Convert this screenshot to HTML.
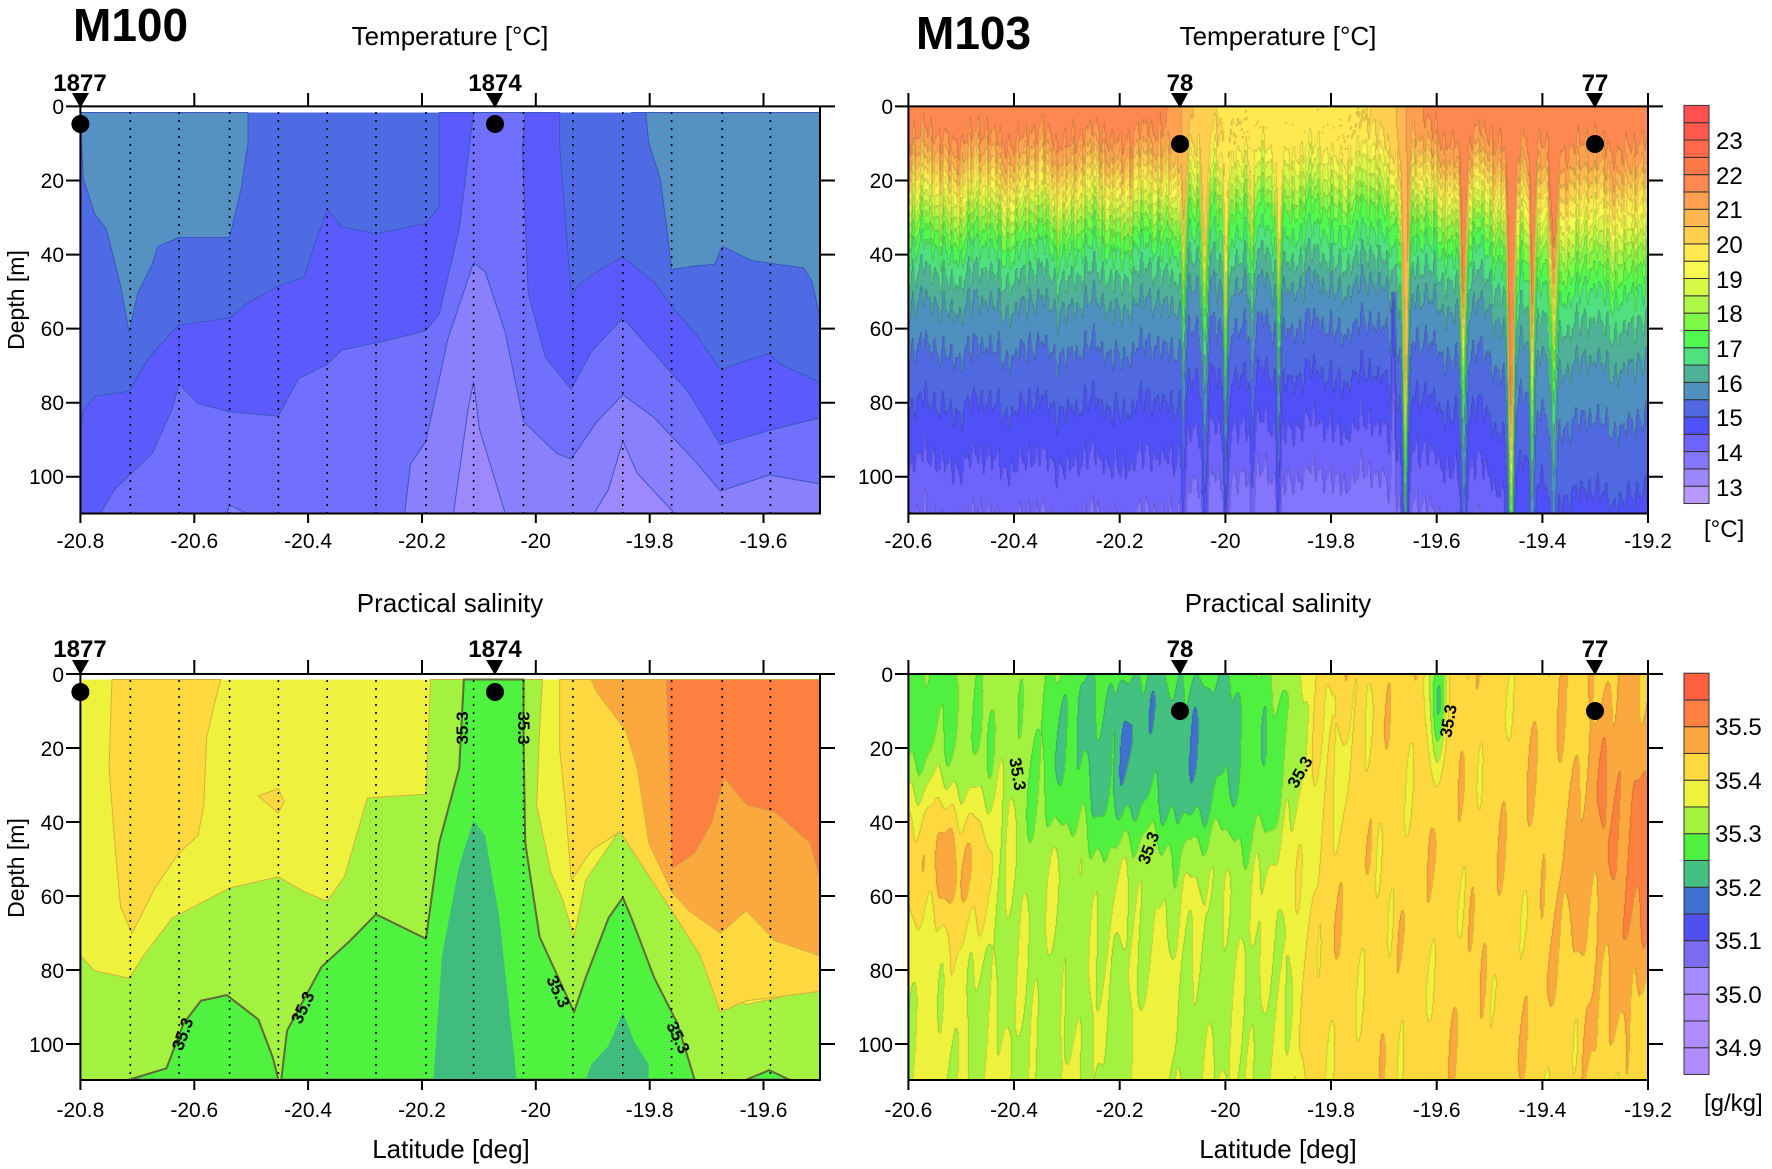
<!DOCTYPE html>
<html><head><meta charset="utf-8">
<style>
html,body{margin:0;padding:0;background:#fff;}
#wrap{position:relative;width:1772px;height:1169px;overflow:hidden;background:#fff;}
canvas{position:absolute;}
svg{position:absolute;left:0;top:0;}
.t{font-family:"Liberation Sans Narrow","Liberation Sans",sans-serif;}
</style></head><body>
<div id="wrap">
<canvas id="ct" width="740" height="407" style="left:908px;top:106px;"></canvas>
<canvas id="cs" width="740" height="406" style="left:908px;top:674px;"></canvas>
<svg width="1772" height="1169" viewBox="0 0 1772 1169" xmlns="http://www.w3.org/2000/svg">
<g transform="scale(0.57405,0.357143)" stroke-linejoin="round">
<rect x="140" y="315" width="1288" height="1122" fill="#4f6be3"/>
<g stroke="#3a58c0" stroke-width="1">
<path vector-effect="non-scaling-stroke" fill="#5591c3" d="M140,315 L432,315 432,400 420,530 400,665 312,665 275,690 265,740 240,820 225,930 210,800 185,640 165,600 145,500Z"/>
<path vector-effect="non-scaling-stroke" fill="#5591c3" d="M1100,315 L1428,315 1428,890 1415,790 1400,750 1345,738 1310,730 1258,690 1245,740 1210,745 1170,755 1160,620 1150,500 1130,400 1125,315Z"/>
<path vector-effect="non-scaling-stroke" fill="#5b5bfd" d="M140,1210 L145,1150 165,1110 225,1095 260,1000 300,930 312,910 400,890 430,850 480,805 530,775 545,700 570,585 595,635 655,655 742,625 765,580 765,315 975,315 975,410 995,830 1010,795 1050,750 1085,720 1140,790 1170,860 1210,930 1255,1035 1300,1010 1340,990 1360,1020 1428,1070 1428,1437 140,1437Z"/>
<path vector-effect="non-scaling-stroke" fill="#7170fd" d="M175,1437 L200,1370 265,1270 300,1145 312,1075 345,1130 400,1153 485,1165 520,1060 570,1020 595,980 655,960 720,935 742,925 765,880 800,640 825,315 915,315 910,420 920,820 950,1000 995,1090 1030,985 1085,890 1140,990 1200,1100 1255,1245 1340,1205 1428,1170 1428,1437Z"/>
<path vector-effect="non-scaling-stroke" fill="#8a7ffd" d="M705,1437 L715,1300 742,1235 780,950 825,735 845,760 880,930 912,1180 970,1270 995,1285 1040,1180 1085,1105 1140,1170 1210,1290 1255,1375 1340,1330 1428,1355 1428,1437Z"/>
<path vector-effect="non-scaling-stroke" fill="#8a7ffd" d="M395,1437 L400,1415 430,1437Z"/>
<path vector-effect="non-scaling-stroke" fill="#9e88fd" d="M790,1437 L815,1150 825,1070 835,1200 880,1437Z"/>
<path vector-effect="non-scaling-stroke" fill="#9e88fd" d="M1035,1437 L1060,1370 1085,1235 1110,1325 1175,1437Z"/>
</g></g>
<g transform="translate(0,580) scale(0.57405,0.375657)" stroke-linejoin="round">
<rect x="140" y="265" width="1288" height="1065" fill="#eef23c"/>
<g stroke="#d8b040" stroke-width="1">
<path vector-effect="non-scaling-stroke" fill="#fdd83e" d="M195,265 L385,265 375,320 360,420 355,600 345,680 310,730 270,820 230,940 210,870 200,700 190,500Z"/>
<path vector-effect="non-scaling-stroke" fill="#fdd83e" d="M450,575 L485,555 495,590 485,620Z"/>
<path vector-effect="non-scaling-stroke" fill="#a2f23f" d="M140,1000 L165,1040 225,1060 250,1000 300,900 400,820 485,790 530,830 570,855 600,790 640,580 742,570 750,265 945,265 940,400 935,600 960,780 980,850 1000,950 1020,800 1080,665 1110,720 1140,790 1190,870 1210,960 1250,1090 1300,1130 1360,1110 1428,1080 1428,1330 140,1330Z"/>
<path vector-effect="non-scaling-stroke" fill="#fdd83e" d="M975,265 L1428,265 1428,1095 1300,1120 1255,1150 1220,1000 1170,880 1110,740 1080,670 1030,720 995,800 985,600 975,450Z"/>
<path vector-effect="non-scaling-stroke" fill="#fba83f" d="M1030,265 L1428,265 1428,1000 1350,960 1300,880 1255,940 1200,880 1170,830 1130,700 1110,500 1090,400 1040,300Z"/>
<path vector-effect="non-scaling-stroke" fill="#fd8040" d="M1160,265 L1428,265 1428,800 1410,700 1350,620 1300,600 1262,530 1240,650 1210,730 1170,770 1165,500Z"/>
</g>
<g stroke="#5f6a38" stroke-width="2">
<path vector-effect="non-scaling-stroke" fill="#4ef23f" d="M225,1330 L290,1300 320,1180 350,1120 395,1105 450,1170 475,1270 485,1330Z"/>
<path vector-effect="non-scaling-stroke" fill="#4ef23f" d="M490,1330 L500,1200 560,1030 610,960 655,890 742,955 765,700 800,500 808,265 912,265 912,420 915,700 940,950 1000,1150 1020,1060 1060,900 1085,845 1100,900 1140,1060 1180,1180 1210,1330Z"/>
<path vector-effect="non-scaling-stroke" fill="#4ef23f" d="M1300,1330 L1340,1305 1375,1330Z"/>
</g>
<path fill="#40bd7e" d="M755,1330 L770,1000 800,760 825,640 845,680 870,900 900,1330Z"/>
<path fill="#40bd7e" d="M1020,1330 L1030,1290 1060,1240 1085,1150 1105,1230 1130,1290 1130,1330Z"/>
</g>
<g stroke="#000" stroke-width="1.6" stroke-dasharray="2,6">
<path d="M130.3,112V513M179.1,112V513M229.6,112V513M278.4,112V513M327.2,112V513M376,112V513M426,112V513M473.6,112V513M523.5,112V513M572.9,112V513M622.8,112V513M671.6,112V513M722.2,112V513M770.4,112V513"/>
<path d="M130.3,680V1080M179.1,680V1080M229.6,680V1080M278.4,680V1080M327.2,680V1080M376,680V1080M426,680V1080M473.6,680V1080M523.5,680V1080M572.9,680V1080M622.8,680V1080M671.6,680V1080M722.2,680V1080M770.4,680V1080"/>
</g>
<g stroke="#000" stroke-width="2" fill="none">
<path d="M80.4,106.4H835M820,106.4V513.5H80.4V106.4"/>
<path d="M80.4,674H835M820,674V1080H80.4V674"/>
<path d="M908.4,106.4H1663M1648,106.4V513.5H908.4V106.4"/>
<path d="M908.4,674H1663M1648,674V1080H908.4V674"/>
<path d="M194.3,106V93M308.1,106V93M422,106V93M535.8,106V93M649.7,106V93M763.5,106V93M80.4,106V93"/>
<path d="M80.4,513V523M194.3,513V523M308.1,513V523M422,513V523M535.8,513V523M649.7,513V523M763.5,513V523"/>
<path d="M194.3,674V660M308.1,674V660M422,674V660M535.8,674V660M649.7,674V660M763.5,674V660M80.4,674V660"/>
<path d="M80.4,1080V1090M194.3,1080V1090M308.1,1080V1090M422,1080V1090M535.8,1080V1090M649.7,1080V1090M763.5,1080V1090"/>
<path d="M908.4,106V93M1014,106V93M1119.7,106V93M1225.4,106V93M1331,106V93M1436.7,106V93M1542.4,106V93M1648,106V93"/>
<path d="M908.4,513V523M1014,513V523M1119.7,513V523M1225.4,513V523M1331,513V523M1436.7,513V523M1542.4,513V523M1648,513V523"/>
<path d="M908.4,674V660M1014,674V660M1119.7,674V660M1225.4,674V660M1331,674V660M1436.7,674V660M1542.4,674V660M1648,674V660"/>
<path d="M908.4,1080V1090M1014,1080V1090M1119.7,1080V1090M1225.4,1080V1090M1331,1080V1090M1436.7,1080V1090M1542.4,1080V1090M1648,1080V1090"/>
<path d="M820,180.5H835M820,254.6H835M820,328.6H835M820,402.7H835M820,476.8H835M66,106.4H80M66,180.5H80M66,254.6H80M66,328.6H80M66,402.7H80M66,476.8H80"/>
<path d="M820,748H835M820,822H835M820,896H835M820,970H835M820,1044H835M66,674H80M66,748H80M66,822H80M66,896H80M66,970H80M66,1044H80"/>
<path d="M1648,180.5H1663M1648,254.6H1663M1648,328.6H1663M1648,402.7H1663M1648,476.8H1663M895,106.4H908M895,180.5H908M895,254.6H908M895,328.6H908M895,402.7H908M895,476.8H908"/>
<path d="M1648,748H1663M1648,822H1663M1648,896H1663M1648,970H1663M1648,1044H1663M895,674H908M895,748H908M895,822H908M895,896H908M895,970H908M895,1044H908"/>
</g>
<g id="cbt" stroke="#333" stroke-width="1"></g>
<g id="cbs" stroke="#333" stroke-width="1"></g>
<g fill="#000">
<path d="M72,93H89L80.4,108Z"/><ellipse cx="80.4" cy="124" rx="9" ry="9"/>
<path d="M486,93H503L495,108Z"/><ellipse cx="495" cy="124" rx="9" ry="9"/>
<path d="M72,660H89L80.4,675Z"/><ellipse cx="80.4" cy="692" rx="9" ry="9"/>
<path d="M486,660H503L495,675Z"/><ellipse cx="495" cy="692" rx="9" ry="9"/>
<path d="M1171,93H1188L1180,108Z"/><ellipse cx="1180" cy="144" rx="9" ry="9"/>
<path d="M1586,93H1603L1595,108Z"/><ellipse cx="1595" cy="144" rx="9" ry="9"/>
<path d="M1171,660H1188L1180,675Z"/><ellipse cx="1180" cy="711" rx="9" ry="9"/>
<path d="M1586,660H1603L1595,675Z"/><ellipse cx="1595" cy="711" rx="9" ry="9"/>
</g>
<g class="t" font-weight="bold" font-size="24" text-anchor="middle">
<text x="80" y="91">1877</text><text x="495" y="91">1874</text>
<text x="80" y="657">1877</text><text x="495" y="657">1874</text>
<text x="1180" y="91">78</text><text x="1595" y="91">77</text>
<text x="1180" y="657">78</text><text x="1595" y="657">77</text>
</g>
<g class="t" font-weight="bold" font-size="46">
<text x="73" y="41">M100</text><text x="916" y="49">M103</text>
</g>
<g class="t" font-size="26" text-anchor="middle">
<text x="450" y="45">Temperature [°C]</text>
<text x="1278" y="45">Temperature [°C]</text>
<text x="450" y="612">Practical salinity</text>
<text x="1278" y="612">Practical salinity</text>
<text x="451" y="1158">Latitude [deg]</text>
<text x="1278" y="1158">Latitude [deg]</text>
</g>
<g font-family="Liberation Sans,sans-serif" font-size="23" text-anchor="middle">
<text transform="translate(24,300) rotate(-90)">Depth [m]</text>
<text transform="translate(24,868) rotate(-90)">Depth [m]</text>
</g>
<g class="t" font-size="21" text-anchor="middle">
<text x="80.4" y="548">-20.8</text><text x="194.3" y="548">-20.6</text><text x="308.1" y="548">-20.4</text><text x="422" y="548">-20.2</text><text x="535.8" y="548">-20</text><text x="649.7" y="548">-19.8</text><text x="763.5" y="548">-19.6</text>
<text x="80.4" y="1117">-20.8</text><text x="194.3" y="1117">-20.6</text><text x="308.1" y="1117">-20.4</text><text x="422" y="1117">-20.2</text><text x="535.8" y="1117">-20</text><text x="649.7" y="1117">-19.8</text><text x="763.5" y="1117">-19.6</text>
<text x="908.4" y="548">-20.6</text><text x="1014" y="548">-20.4</text><text x="1119.7" y="548">-20.2</text><text x="1225.4" y="548">-20</text><text x="1331" y="548">-19.8</text><text x="1436.7" y="548">-19.6</text><text x="1542.4" y="548">-19.4</text><text x="1648" y="548">-19.2</text>
<text x="908.4" y="1117">-20.6</text><text x="1014" y="1117">-20.4</text><text x="1119.7" y="1117">-20.2</text><text x="1225.4" y="1117">-20</text><text x="1331" y="1117">-19.8</text><text x="1436.7" y="1117">-19.6</text><text x="1542.4" y="1117">-19.4</text><text x="1648" y="1117">-19.2</text>
</g>
<g class="t" font-size="21" text-anchor="end">
<text x="64" y="114">0</text><text x="64" y="188">20</text><text x="64" y="262">40</text><text x="64" y="336">60</text><text x="64" y="410">80</text><text x="64" y="484">100</text>
<text x="64" y="682">0</text><text x="64" y="756">20</text><text x="64" y="830">40</text><text x="64" y="904">60</text><text x="64" y="978">80</text><text x="64" y="1052">100</text>
<text x="893" y="114">0</text><text x="893" y="188">20</text><text x="893" y="262">40</text><text x="893" y="336">60</text><text x="893" y="410">80</text><text x="893" y="484">100</text>
<text x="893" y="682">0</text><text x="893" y="756">20</text><text x="893" y="830">40</text><text x="893" y="904">60</text><text x="893" y="978">80</text><text x="893" y="1052">100</text>
</g>
<g font-family="Liberation Sans,sans-serif" font-size="24">
<text x="1716" y="149">23</text><text x="1716" y="184">22</text><text x="1716" y="218">21</text><text x="1716" y="253">20</text><text x="1716" y="288">19</text><text x="1716" y="322">18</text><text x="1716" y="357">17</text><text x="1716" y="392">16</text><text x="1716" y="426">15</text><text x="1716" y="461">14</text><text x="1716" y="496">13</text>
<text x="1704" y="537">[°C]</text>
<text x="1715" y="735">35.5</text><text x="1715" y="789">35.4</text><text x="1715" y="842">35.3</text><text x="1715" y="896">35.2</text><text x="1715" y="949">35.1</text><text x="1715" y="1003">35.0</text><text x="1715" y="1056">34.9</text>
<text x="1704" y="1111">[g/kg]</text>
</g>
<g font-family="Liberation Sans,sans-serif" font-weight="bold" font-size="17" text-anchor="middle" fill="#000">
<text transform="translate(468,728) rotate(-90)">35.3</text>
<text transform="translate(518,728) rotate(90)">35.3</text>
<text transform="translate(188,1036) rotate(-70)">35.3</text>
<text transform="translate(308,1010) rotate(-65)">35.3</text>
<text transform="translate(553,994) rotate(65)">35.3</text>
<text transform="translate(673,1040) rotate(65)">35.3</text>
<text transform="translate(1012,775) rotate(80)">35.3</text>
<text transform="translate(1154,850) rotate(-70)">35.3</text>
<text transform="translate(1305,775) rotate(-60)">35.3</text>
<text transform="translate(1454,722) rotate(-80)">35.3</text>
</g>
</svg>
</div>
<script>
(function(){
var TC=["#b898fc","#9c88fc","#8476fc","#6e64fc","#5050f8","#5068e0","#5090c0","#50b098","#50e080","#50f850","#80f848","#b0f848","#d8f848","#f8f850","#ffe850","#ffd050","#ffb850","#ffa050","#ff8850","#ff7848","#ff6848","#ff5a4c","#ff5050"];
var SC=["#b08cff","#b08cff","#b08cff","#a48cff","#7c6cf0","#5050f0","#4070d0","#44c080","#50f040","#a2f23f","#eef23c","#fdd83e","#fba83f","#fd8040","#ff6040"];
var ns="http://www.w3.org/2000/svg";
function bar(id,cols,y0,h){var g=document.getElementById(id);for(var i=0;i<cols.length;i++){var r=document.createElementNS(ns,"rect");r.setAttribute("x",1684);r.setAttribute("width",25);r.setAttribute("y",y0+h*(cols.length-1-i));r.setAttribute("height",h);r.setAttribute("fill",cols[i]);g.appendChild(r);}}
bar("cbt",TC,105.4,17.31);bar("cbs",SC,673.2,26.75);
function hex(c){return [parseInt(c.substr(1,2),16),parseInt(c.substr(3,2),16),parseInt(c.substr(5,2),16)];}
function draw(id,W,H,cols,bandf){
 var cv=document.getElementById(id),ctx=cv.getContext("2d"),img=ctx.createImageData(W,H),rgb=cols.map(hex);
 var B=new Int16Array(W*H);
 for(var y=0;y<H;y++)for(var x=0;x<W;x++){B[y*W+x]=bandf(x,y);}
 for(var y=0;y<H;y++)for(var x=0;x<W;x++){var b=B[y*W+x];if(b<0)b=0;if(b>=cols.length)b=cols.length-1;var c=rgb[b];var e=(x>0&&B[y*W+x-1]!=B[y*W+x])||(y>0&&B[(y-1)*W+x]!=B[y*W+x]);var f=e?0.85:1;var k=(y*W+x)*4;img.data[k]=c[0]*f;img.data[k+1]=c[1]*f;img.data[k+2]=c[2]*f;img.data[k+3]=255;}
 ctx.putImageData(img,0,0);
}
function g(x,c,w,p){return Math.exp(-Math.pow(Math.abs((x-c)/w),p));}
function sig(x){return 1/(1+Math.exp(-x));}
var PR=[[-100,22],[0,21.9],[6,21.7],[12,21.1],[18,20.1],[25,19],[32,17.8],[40,16.9],[50,16.2],[60,15.7],[75,15.2],[90,14.7],[105,14.2],[120,13.7],[300,12.6]];
function prof(z){for(var i=1;i<PR.length;i++){if(z<=PR[i][0]){var a=PR[i-1],b=PR[i];return a[1]+(b[1]-a[1])*(z-a[0])/(b[0]-a[0]);}}return 12.6;}
var spikes=[[-19.66,62,0.006],[-19.46,75,0.006],[-20.04,30,0.006],[-20.0,35,0.004],[-19.90,25,0.004],[-19.55,40,0.006],[-19.42,45,0.005],[-19.38,30,0.006],[-20.08,20,0.004],[-19.95,18,0.004]];
function n1(l){return 0.5*Math.sin(l*60+1)+0.3*Math.sin(l*137+2)+0.2*Math.sin(l*311)+0.15*Math.sin(l*540+3);}
draw("ct",740,407,TC,function(x,y){
 var l=-20.6+x/740*1.4,d=y/407*110;
 var mid=sig((l+20.08)/0.02)*sig(-(l+19.66)/0.02);
 var right=sig((l+19.45)/0.03);
 var stretch=1-0.1*mid+0.3*right;
 var sh=4*n1(l)+2.5*Math.sin(l*420+d*0.04)+1.5*Math.sin(l*770+1+d*0.02);
 for(var i=0;i<spikes.length;i++){var s=spikes[i];sh+=s[1]*Math.exp(-Math.pow((l-s[0])/s[2],2));}
 sh-=25*Math.exp(-Math.pow((l+19.683)/0.003,2))*(d>50?1:0);
 var z=(d-sh)/stretch;
 var T=prof(z)+(-2.0*mid)*Math.max(0,1-Math.max(z,0)/40);
 return Math.floor((T-12.5)/0.5);
});
draw("cs",740,406,SC,function(x,y){
 var l=-20.6+x/740*1.4,d=y/406*110;
 var S=35.365+0.06*sig((l+19.86)/0.015)
  +0.09*g(l,-19.22,0.12,2)*g(d,45,40,2)
  +0.12*g(l,-20.52,0.07,2)*g(d,52,18,2)
  -0.145*g(l,-20.12,0.26,3)*g(d,18,28,3)
  -0.08*g(l,-20.55,0.1,3)*g(d,10,22,3)
  -0.03*g(l,-20.2,0.3,4)*g(d,85,40,2)
  +0.04*g(l,-20.14,0.04,2)*g(d,95,25,2)
  -0.15*g(l,-19.6,0.018,2)*g(d,5,18,2)
  +0.012*(Math.sin(l*45+d*0.09)+Math.sin(l*95-d*0.06+1)+Math.sin(l*150+d*0.13+2)+0.7*Math.sin(l*230+d*0.04));
 return Math.floor((S-34.85)/0.05);
});
})();
</script>
</body></html>
